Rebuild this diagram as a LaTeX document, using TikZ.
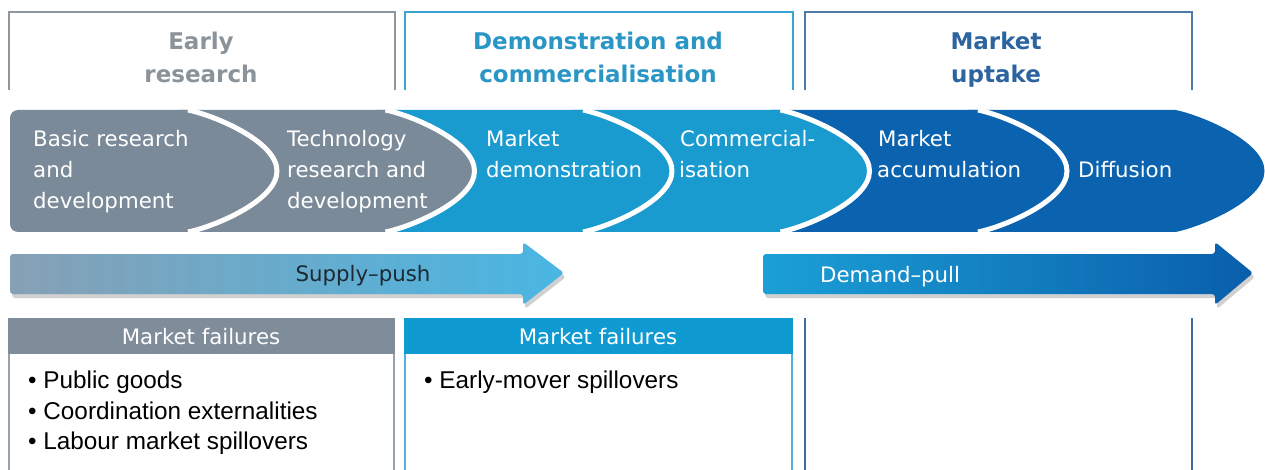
\documentclass[tikz,border=0pt]{standalone}
\usepackage{fontspec}
\setmainfont{DejaVu Sans}
\newfontfamily\listfont{Liberation Sans}
\usetikzlibrary{shadows}
\definecolor{cgrey}{HTML}{7B8A98}
\definecolor{cteal}{HTML}{1A9BD0}
\definecolor{cblue}{HTML}{0B63B0}
\definecolor{bgrey}{HTML}{8E979E}
\definecolor{bteal}{HTML}{3BA3CF}
\definecolor{bblue}{HTML}{4D7AA6}
\definecolor{tgrey}{HTML}{8A9399}
\definecolor{tteal}{HTML}{2A96C6}
\definecolor{tblue}{HTML}{2C64A0}
\definecolor{hgrey}{HTML}{7F8D9A}
\definecolor{hteal}{HTML}{0F9AD2}
\definecolor{lgrey}{HTML}{97A1AA}
\definecolor{lteal}{HTML}{4FB3DC}
\definecolor{lblue}{HTML}{3E6C9E}
\definecolor{supL}{HTML}{86A0B5}
\definecolor{supR}{HTML}{49B6E3}
\definecolor{demL}{HTML}{1B9FD6}
\definecolor{demR}{HTML}{0A5EAB}
\definecolor{darktxt}{HTML}{1C2833}
\tikzset{
  titletxt/.style={anchor=base, font=\bfseries\fontsize{23}{26}\selectfont},
  chevtxt/.style={anchor=base west, text=white, inner sep=0pt, font=\fontsize{21.3}{24}\selectfont},
  hdrtxt/.style={anchor=base, text=white, font=\fontsize{21.3}{24}\selectfont},
  listtxt/.style={anchor=base west, inner sep=0pt, text=black, font=\listfont\fontsize{24.3}{27}\selectfont},
  frame/.style={line width=2.4pt},
  gapline/.style={draw=white, line width=5pt},
  bigarrow/.style={rounded corners=3pt, drop shadow={shadow xshift=2pt, shadow yshift=-4pt, opacity=.3, fill=black!60}}
}
\begin{document}
\begin{tikzpicture}[x=1pt,y=-1pt]
\useasboundingbox (0,0) rectangle (1265,470);
\fill[white] (0,0) rectangle (1265,470);

% top frames
\draw[frame, bgrey] (9,90) -- (9,12) -- (395,12) -- (395,90);
\draw[frame, bteal] (405,90) -- (405,12) -- (793,12) -- (793,90);
\draw[frame, bblue] (805,90) -- (805,12) -- (1192,12) -- (1192,90);
\node[titletxt, text=tgrey] (t1a) at (201,50) {Early};
\node[titletxt, text=tgrey] (t1b) at (201,83) {research};
\node[titletxt, text=tteal] (t2a) at (598,50) {Demonstration and};
\node[titletxt, text=tteal] (t2b) at (598,83) {commercialisation};
\node[titletxt, text=tblue] (t3a) at (996,50) {Market};
\node[titletxt, text=tblue] (t3b) at (996,83) {uptake};

% chevrons (right to left)
\foreach \k/\col in {6/cblue,5/cblue,4/cteal,3/cteal,2/cgrey}{
  \pgfmathsetmacro{\fe}{188+197.5*(\k-1)}
  \pgfmathsetmacro{\tip}{\fe+89}
  \pgfmathsetmacro{\lft}{\fe-197.5-10}
  \fill[\col] (\lft,110) -- (\fe,110) .. controls (\fe+25,115) and (\tip,141) .. (\tip,171)
     .. controls (\tip,201) and (\fe+25,227) .. (\fe,232) -- (\lft,232) -- cycle;
  \ifnum\k<6
  \draw[gapline] (\fe,110) .. controls (\fe+25,115) and (\tip,141) .. (\tip,171)
     .. controls (\tip,201) and (\fe+25,227) .. (\fe,232);
  \fi
}
\fill[cgrey] (100,110) -- (188,110) .. controls (213,115) and (277,141) .. (277,171)
   .. controls (277,201) and (213,227) .. (188,232) -- (100,232) [rounded corners=8pt] -- (10,232) -- (10,110) -- cycle;
\draw[gapline] (188,110) .. controls (213,115) and (277,141) .. (277,171)
   .. controls (277,201) and (213,227) .. (188,232);

\node[chevtxt] (c1a) at (33,147) {Basic research};
\node[chevtxt] (c1b) at (33,178) {and};
\node[chevtxt] (c1c) at (33,209) {development};
\node[chevtxt] (c2a) at (287,147) {Technology};
\node[chevtxt] (c2b) at (287,178) {research and};
\node[chevtxt] (c2c) at (287,209) {development};
\node[chevtxt] (c3a) at (486,147) {Market};
\node[chevtxt] (c3b) at (486,178) {demonstration};
\node[chevtxt] (c4a) at (680,147) {Commercial-};
\node[chevtxt] (c4b) at (679,178) {isation};
\node[chevtxt] (c5a) at (878,147) {Market};
\node[chevtxt] (c5b) at (877,178) {accumulation};
\node[chevtxt] (c6a) at (1078,178) {Diffusion};

% arrows
\path[bigarrow, left color=supL, right color=supR]
  (10,254) -- (523,254) -- (523,242) -- (564,273) -- (523,305) -- (523,294) -- (10,294) -- cycle;
\node[anchor=base, text=darktxt, font=\fontsize{21.3}{24}\selectfont] (sp) at (363,281) {Supply–push};
\path[bigarrow, left color=demL, right color=demR]
  (763,254) -- (1215,254) -- (1215,242) -- (1253,273) -- (1215,305) -- (1215,294) -- (763,294) -- cycle;
\node[anchor=base west, inner sep=0pt, text=white, font=\fontsize{21.3}{24}\selectfont] (dp) at (820,282) {Demand–pull};

% bottom boxes
\fill[hgrey] (8,318) rectangle (395,354);
\draw[frame, lgrey, line width=2pt] (9,354) -- (9,470);
\draw[frame, lgrey, line width=2pt] (394,354) -- (394,470);
\fill[hteal] (404,318) rectangle (793,354);
\draw[frame, lteal, line width=2pt] (405,354) -- (405,470);
\draw[frame, lteal, line width=2pt] (792,354) -- (792,470);
\draw[frame, lblue, line width=2pt] (805,318) -- (805,470);
\draw[frame, lblue, line width=2pt] (1192,318) -- (1192,470);
\node[hdrtxt] (h1) at (201,344) {Market failures};
\node[hdrtxt] (h2) at (598,344) {Market failures};

\node[listtxt] (l1) at (28,388) {• Public goods};
\node[listtxt] (l2) at (28,419) {• Coordination externalities};
\node[listtxt] (l3) at (28,449) {• Labour market spillovers};
\node[listtxt] (l4) at (424,388) {• Early-mover spillovers};
\end{tikzpicture}
\end{document}
